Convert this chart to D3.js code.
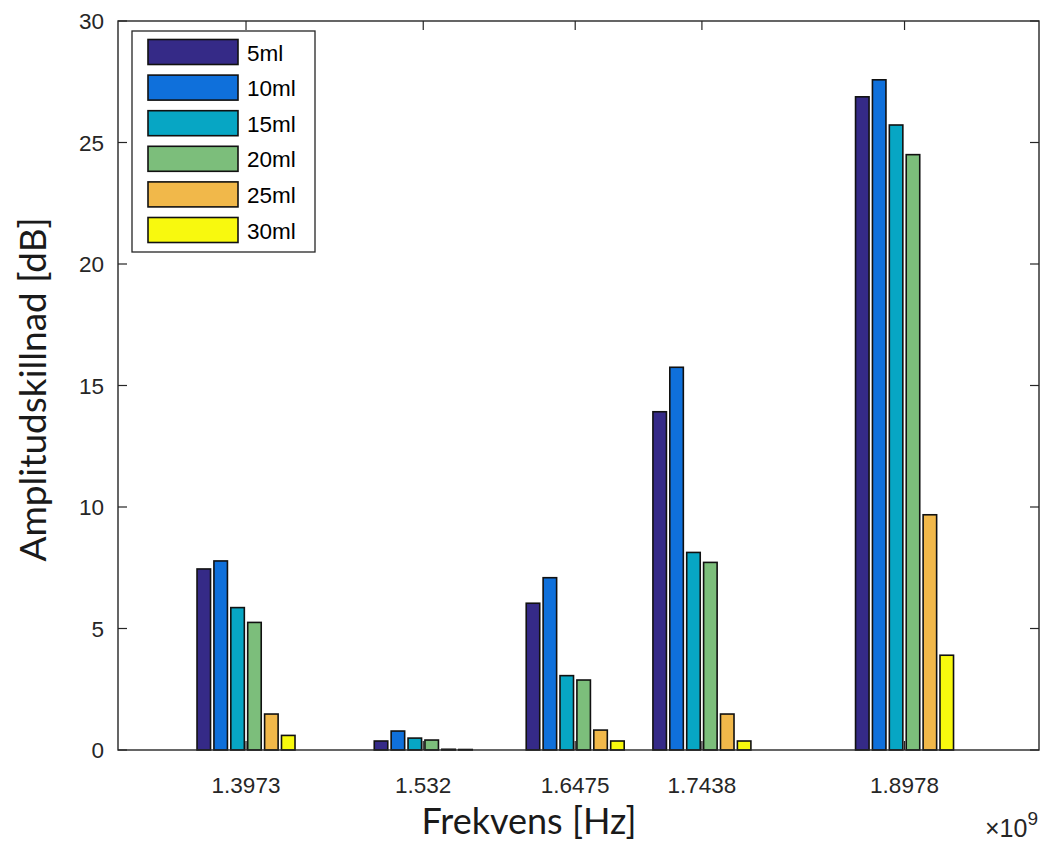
<!DOCTYPE html>
<html>
<head>
<meta charset="utf-8">
<script src="https://cdn.jsdelivr.net/npm/d3@7"></script>
<style>
  html, body { margin: 0; padding: 0; background: #ffffff; }
  svg { display: block; }
</style>
</head>
<body>
<svg id="chart" width="1042" height="844"></svg>
<script>
// Measured frequencies (GHz, shown with a ×10^9 multiplier)
const frequencies = [1.3973, 1.532, 1.6475, 1.7438, 1.8978];
const frequencyLabels = ["1.3973", "1.532", "1.6475", "1.7438", "1.8978"];

// Amplitude difference [dB] per filled volume
const volumes = ["5ml", "10ml", "15ml", "20ml", "25ml", "30ml"];
const amp5ml  = [7.45, 0.37, 6.04, 13.92, 26.88];
const amp10ml = [7.78, 0.78, 7.09, 15.75, 27.58];
const amp15ml = [5.86, 0.49, 3.06, 8.13, 25.72];
const amp20ml = [5.25, 0.41, 2.88, 7.72, 24.50];
const amp25ml = [1.48, 0.03, 0.82, 1.48, 9.68];
const amp30ml = [0.60, 0.02, 0.37, 0.37, 3.90];
const series = [amp5ml, amp10ml, amp15ml, amp20ml, amp25ml, amp30ml];

const colors = ["#352a87", "#0f70db", "#07a6c4", "#7cbe7b", "#f1b84a", "#f8f90e"];
const yTicks = [0, 5, 10, 15, 20, 25, 30];

const svg = d3.select("#chart");
const plot = { left: 118, top: 21, right: 1039, bottom: 750 };

const x = d3.scaleLinear().domain([1.3, 2.0]).range([plot.left, plot.right]);
const y = d3.scaleLinear().domain([0, 30]).range([plot.bottom, plot.top]);

const axisColor = "#262626";
const tickFont = "'Liberation Sans', Arial, sans-serif";
const tickSize = 22.5;
const tickLen = 9;

// Grouped bar geometry: the group spans 0.8 of the smallest spacing between frequencies
const minGap = d3.min(d3.pairs(frequencies), ([a, b]) => b - a);
const groupWidth = 0.8 * minGap;
const slot = groupWidth / volumes.length;
const barWidth = 0.8 * slot;

// Inward tick marks (drawn beneath the bars)
const ticks = svg.append("g").attr("stroke", axisColor).attr("stroke-width", 1.2);
frequencies.forEach(f => {
  ticks.append("line").attr("x1", x(f)).attr("x2", x(f)).attr("y1", plot.bottom).attr("y2", plot.bottom - tickLen);
  ticks.append("line").attr("x1", x(f)).attr("x2", x(f)).attr("y1", plot.top).attr("y2", plot.top + tickLen);
});
yTicks.forEach(v => {
  ticks.append("line").attr("x1", plot.left).attr("x2", plot.left + tickLen).attr("y1", y(v)).attr("y2", y(v));
  ticks.append("line").attr("x1", plot.right).attr("x2", plot.right - tickLen).attr("y1", y(v)).attr("y2", y(v));
});

// Bars
series.forEach((vals, i) => {
  const offset = -groupWidth / 2 + slot / 2 + i * slot;
  svg.append("g")
    .selectAll("rect")
    .data(vals)
    .join("rect")
    .attr("x", (d, j) => x(frequencies[j] + offset - barWidth / 2))
    .attr("width", (d, j) => x(frequencies[j] + offset + barWidth / 2) - x(frequencies[j] + offset - barWidth / 2))
    .attr("y", d => y(d))
    .attr("height", d => y(0) - y(d))
    .attr("fill", colors[i])
    .attr("stroke", "#111")
    .attr("stroke-width", 1.6);
});

// Axes box
svg.append("rect")
  .attr("x", plot.left).attr("y", plot.top)
  .attr("width", plot.right - plot.left).attr("height", plot.bottom - plot.top)
  .attr("fill", "none").attr("stroke", axisColor).attr("stroke-width", 1.4);

// Tick labels
svg.append("g").selectAll("text")
  .data(frequencies)
  .join("text")
  .attr("x", d => x(d))
  .attr("y", plot.bottom + 43)
  .attr("text-anchor", "middle")
  .attr("font-family", tickFont)
  .attr("font-size", tickSize)
  .attr("fill", axisColor)
  .text((d, i) => frequencyLabels[i]);

svg.append("g").selectAll("text")
  .data(yTicks)
  .join("text")
  .attr("x", plot.left - 14)
  .attr("y", d => y(d) + 8)
  .attr("text-anchor", "end")
  .attr("font-family", tickFont)
  .attr("font-size", tickSize)
  .attr("fill", axisColor)
  .text(d => d);

// Exponent multiplier
const mult = svg.append("text")
  .attr("x", plot.right - 1)
  .attr("y", 837)
  .attr("text-anchor", "end")
  .attr("font-family", tickFont)
  .attr("font-size", 25)
  .attr("fill", axisColor);
mult.append("tspan").text("\u00d710");
mult.append("tspan").attr("dy", -12).attr("font-size", 19).text("9");

// Axis titles
const titleFont = "Lato, 'Open Sans', sans-serif";
svg.append("text")
  .attr("x", 529)
  .attr("y", 834)
  .attr("text-anchor", "middle")
  .attr("font-family", titleFont)
  .attr("font-size", 36)
  .attr("fill", "#1a1a1a")
  .text("Frekvens [Hz]");

svg.append("text")
  .attr("transform", `translate(46, ${(plot.top + plot.bottom) / 2 + 4}) rotate(-90)`)
  .attr("text-anchor", "middle")
  .attr("font-family", titleFont)
  .attr("font-size", 37)
  .attr("fill", "#1a1a1a")
  .text("Amplitudskillnad [dB]");

// Legend
const legend = svg.append("g");
legend.append("rect")
  .attr("x", 132).attr("y", 31).attr("width", 183).attr("height", 221)
  .attr("fill", "#ffffff").attr("stroke", axisColor).attr("stroke-width", 1.3);
volumes.forEach((name, i) => {
  const top = 39.5 + i * 35.6;
  legend.append("rect")
    .attr("x", 148).attr("y", top).attr("width", 90).attr("height", 25)
    .attr("fill", colors[i]).attr("stroke", "#111").attr("stroke-width", 1.6);
  legend.append("text")
    .attr("x", 247).attr("y", top + 21)
    .attr("font-family", tickFont)
    .attr("font-size", 22.5)
    .attr("fill", "#000")
    .text(name);
});
</script>
</body>
</html>
